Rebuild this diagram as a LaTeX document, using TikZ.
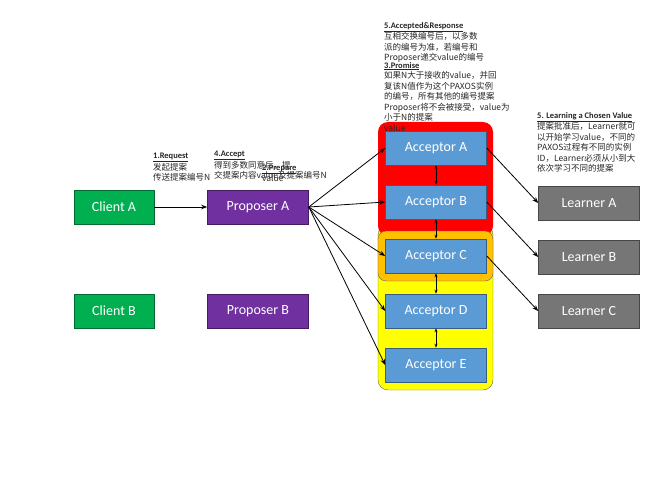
\documentclass[tikz,border=0pt]{standalone}
\usepackage{fontspec}
\setmainfont{Carlito}
\newfontfamily\cjk{Noto Sans CJK SC}
\usetikzlibrary{arrows.meta}
\begin{document}
\begin{tikzpicture}[x=1pt,y=-1pt,
 box/.style={draw=#1!60!black,line width=0.6pt,fill=#1,minimum width=101pt,minimum height=34pt,text=white,font=\fontsize{14}{14}\selectfont,inner sep=0pt},
 cbox/.style={box=#1,minimum width=80pt},
 arr/.style={-{Stealth[length=6pt]},line width=0.8pt},
 darr/.style={{Stealth[length=4pt]}-{Stealth[length=4pt]},line width=0.6pt},
 note/.style={align=left,anchor=north west,inner sep=0pt,font=\cjk\fontsize{8.5}{10.5}\selectfont,text=black!85}]
\useasboundingbox (0,0) rectangle (667,500);
\definecolor{cgreen}{RGB}{0,176,80}
\definecolor{cpurple}{RGB}{112,48,160}
\definecolor{cblue}{RGB}{91,155,213}
\definecolor{cgray}{RGB}{118,118,118}
\definecolor{cyel}{RGB}{255,255,0}
\definecolor{cred}{RGB}{255,0,0}
\definecolor{corange}{RGB}{255,192,0}
\fill[cyel,rounded corners=10pt,draw=black!60] (378,225) rectangle (493,390);
\fill[cred,rounded corners=10pt] (378,122) rectangle (493,236);
\fill[corange,rounded corners=8pt,draw=black!60] (378,231) rectangle (493,281);
\node[cbox=cgreen] (ca) at (114,207) {Client A};
\node[cbox=cgreen] (cb) at (114,311) {Client B};
\node[box=cpurple] (pa) at (258,207) {Proposer A};
\node[box=cpurple] (pb) at (258,311) {Proposer B};
\node[box=cblue] (aa) at (436,148) {Acceptor A};
\node[box=cblue] (ab) at (436,202) {Acceptor B};
\node[box=cblue] (ac) at (436,256) {Acceptor C};
\node[box=cblue] (ad) at (436,311) {Acceptor D};
\node[box=cblue] (ae) at (436,365) {Acceptor E};
\node[box=cgray] (la) at (589,203) {Learner A};
\node[box=cgray] (lb) at (589,257) {Learner B};
\node[box=cgray] (lc) at (589,311) {Learner C};
\draw[arr] (ca) -- (pa);
\foreach \a in {aa,ab,ac,ad,ae} \draw[arr] (pa.east) -- (\a.west);
\draw[darr] (aa) -- (ab); \draw[darr] (ab) -- (ac); \draw[darr] (ac) -- (ad); \draw[darr] (ad) -- (ae);
\draw[arr] (aa.east) -- (la.west);
\draw[arr] (ab.east) -- (lb.west);
\draw[arr] (ac.east) -- (lc.west);
\node[note] (n1) at (153,153) {{\fontspec{Carlito}\bfseries\underline{1.Request}}\\发起提案\\传送提案编号N};
\node[note] (n4) at (214,151) {{\fontspec{Carlito}\bfseries\underline{4.Accept}}\\得到多数同意后，提\\交提案内容value及提案编号N};
\node[note] (n2) at (262,165) {{\fontspec{Carlito}\bfseries\underline{2.Prepare}}\\value};
\node[note] (n5) at (384,22) {{\fontspec{Carlito}\bfseries\underline{5.Accepted\&Response}}\\互相交换编号后，以多数\\派的编号为准，若编号和\\Proposer递交value的编号};
\node[note] (n3) at (384,62) {{\fontspec{Carlito}\bfseries\underline{3.Promise}}\\如果N大于接收的value，并回\\复该N值作为这个PAXOS实例\\的编号，所有其他的编号提案\\Proposer将不会被接受，value为\\小于N的提案\\value};
\node[note] (n6) at (537,112) {{\fontspec{Carlito}\bfseries\underline{5. Learning a Chosen Value}}\\提案批准后，Learner就可\\以开始学习value，不同的\\PAXOS过程有不同的实例\\ID，Learner必须从小到大\\依次学习不同的提案};
\end{tikzpicture}
\end{document}
